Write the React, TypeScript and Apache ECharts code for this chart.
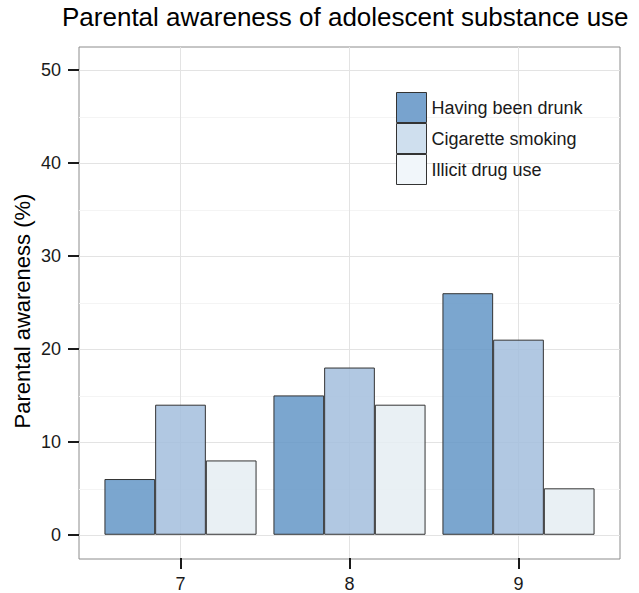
import React, { useEffect, useRef } from "react";
import * as echarts from "echarts";

const categories = ["7", "8", "9"];
const seriesNames = ["Having been drunk", "Cigarette smoking", "Illicit drug use"];
const drunk = [6, 15, 26];
const cigarette = [14, 18, 21];
const illicit = [8, 14, 5];
const yTicks = [0, 10, 20, 30, 40, 50];

const FONT = "'Liberation Sans', Arial, Helvetica, sans-serif";
const MAJOR = "#e3e3e3";
const MINOR = "#f4f4f4";
const NONE = "rgba(0,0,0,0)";

export default function App() {
  const ref = useRef<HTMLDivElement>(null);
  useEffect(() => {
    if (!ref.current) return;
    const chart = echarts.init(ref.current, undefined, { renderer: "svg" });
    const barColors = ["rgba(100,150,199,0.85)", "rgba(163,190,221,0.85)", "rgba(229,237,242,0.85)"];
    const keyColors = ["#78a3ce", "#cfdfee", "#f1f6fa"];
    const data = [drunk, cigarette, illicit];
    chart.setOption({
      animation: false,
      backgroundColor: "#ffffff",
      textStyle: { fontFamily: FONT },
      title: {
        text: "Parental awareness of adolescent substance use",
        left: 62,
        top: 4,
        padding: 0,
        textStyle: { fontFamily: FONT, fontSize: 26, fontWeight: "normal", color: "#000" },
      },
      graphic: [
        {
          type: "text",
          x: 22,
          y: 311,
          rotation: Math.PI / 2,
          style: {
            text: "Parental awareness (%)",
            fontFamily: FONT,
            fontSize: 22,
            fill: "#000",
            textAlign: "center",
            textVerticalAlign: "middle",
          },
        },
      ],
      legend: {
        orient: "vertical",
        left: 396,
        top: 92,
        padding: 0,
        itemWidth: 30,
        itemHeight: 30,
        itemGap: 0,
        icon: "rect",
        textStyle: { fontFamily: FONT, fontSize: 18, color: "#1a1a1a" },
        data: seriesNames.map((n, i) => ({
          name: n,
          itemStyle: { color: keyColors[i], borderColor: "#333", borderWidth: 1 },
        })),
      },
      grid: [
        { left: 79, top: 47, width: 541, height: 512, show: true, borderColor: "#8c8c8c", borderWidth: 1, backgroundColor: "transparent", containLabel: false },
        { left: 96, top: 47, width: 507, height: 512, containLabel: false },
      ],
      xAxis: [
        {
          type: "value",
          gridIndex: 0,
          min: 0,
          max: 32,
          interval: 1,
          axisLine: { show: false, onZero: false },
          axisTick: { show: false },
          axisLabel: { show: false },
          splitLine: {
            show: true,
            showMinLine: true,
            showMaxLine: true,
            lineStyle: { color: [NONE, NONE, NONE, NONE, NONE, NONE, MAJOR, NONE, NONE, NONE], width: 1 },
          },
        },
        {
          type: "category",
          gridIndex: 1,
          position: "bottom",
          data: categories,
          axisLine: { show: false, onZero: false },
          axisTick: { show: true, alignWithLabel: true, length: 11, lineStyle: { color: "#1a1a1a", width: 2 } },
          axisLabel: { fontFamily: FONT, fontSize: 18, color: "#1a1a1a", margin: 17 },
          splitLine: { show: false },
        },
      ],
      yAxis: [
        {
          type: "value",
          gridIndex: 0,
          min: -2.5,
          max: 52.5,
          interval: 2.5,
          axisLine: { show: false, onZero: false },
          axisTick: { show: false },
          axisLabel: { show: false },
          splitLine: {
            show: true,
            showMinLine: true,
            showMaxLine: true,
            lineStyle: { color: [NONE, MAJOR, NONE, MINOR], width: 1 },
          },
        },
        {
          type: "value",
          gridIndex: 1,
          min: -2.5,
          max: 52.5,
          offset: 17,
          axisLine: { show: false, onZero: false },
          axisTick: { show: true, length: 11, customValues: yTicks, lineStyle: { color: "#1a1a1a", width: 2 } },
          axisLabel: { fontFamily: FONT, fontSize: 18, color: "#1a1a1a", margin: 18, customValues: yTicks },
          splitLine: { show: false },
        },
      ],
      series: seriesNames.map((n, i) => ({
        name: n,
        type: "bar",
        xAxisIndex: 1,
        yAxisIndex: 1,
        data: data[i],
        barGap: "0%",
        barCategoryGap: "10%",
        itemStyle: { color: barColors[i], borderColor: "#333", borderWidth: 1 },
      })),
    });
    return () => chart.dispose();
  }, []);
  return (
    <div
      ref={ref}
      style={{ position: "fixed", left: 0, top: 0, width: 639, height: 593 }}
    />
  );
}
